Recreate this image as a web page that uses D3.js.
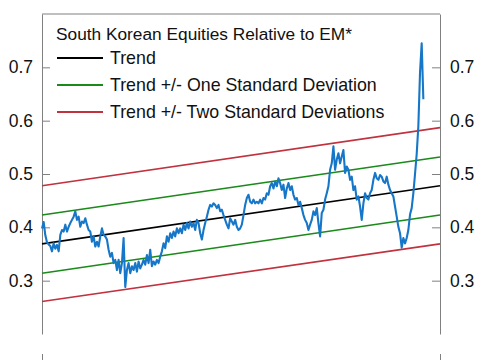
<!DOCTYPE html>
<html>
<head>
<meta charset="utf-8">
<script src="https://cdn.jsdelivr.net/npm/d3@7"></script>
<style>
   body { margin: 0; background: #fff; }
   svg { display: block; font-family: "Liberation Sans", Arial, sans-serif; }
</style>
</head>
<body>
<div id="chart"></div>
<script>
// monthly relative performance (South Korea / EM)
const relPerf = [
   .398,.410,.385,.372,.368,.365,.355,.370,.360,.367,
   .355,.386,.395,.392,.405,.392,.401,.408,.414,.420,
   .430,.414,.420,.401,.411,.408,.417,.405,.395,.392,
   .373,.383,.364,.373,.364,.383,.398,.386,.383,.377,
   .358,.345,.352,.333,.339,.320,.339,.314,.333,.380,
   .288,.320,.333,.314,.327,.320,.333,.317,.336,.323,
   .330,.339,.330,.348,.333,.358,.327,.336,.330,.339,
   .333,.345,.355,.370,.361,.383,.373,.389,.380,.392,
   .383,.398,.389,.398,.389,.405,.395,.408,.398,.411,
   .401,.408,.395,.414,.408,.389,.377,.395,.408,.420,
   .433,.442,.439,.445,.442,.436,.442,.430,.433,.423,
   .414,.405,.398,.417,.411,.405,.414,.401,.395,.398,
   .405,.423,.442,.455,.461,.448,.445,.452,.445,.448,
   .445,.452,.445,.455,.452,.464,.461,.477,.483,.473,
   .486,.477,.492,.483,.470,.480,.455,.473,.483,.470,
   .477,.461,.452,.455,.442,.448,.436,.423,.414,.408,
   .395,.405,.414,.430,.423,.436,.408,.383,.427,.433,
   .452,.464,.477,.508,.520,.552,.508,.527,.539,.520,
   .533,.545,.502,.514,.508,.489,.495,.470,.477,.452,
   .458,.439,.414,.445,.464,.455,.452,.464,.470,.489,
   .502,.492,.489,.498,.495,.486,.483,.495,.480,.470,
   .464,.458,.439,.420,.401,.389,.362,.380,.370,.380,
   .395,.424,.436,.464,.500,.537,.590,.690,.745,.640
];

const lastMonth = 239;
// start / end values of the straight lines
const trend = [0.369, 0.478];
const oneSdUp = [0.423, 0.532];
const oneSdDown = [0.314, 0.423];
const twoSdUp = [0.478, 0.587];
const twoSdDown = [0.261, 0.369];

const yTicks = [0.3, 0.4, 0.5, 0.6, 0.7];
const legendTitle = "South Korean Equities Relative to EM*";
const legendLabels = ["Trend", "Trend +/- One Standard Deviation", "Trend +/- Two Standard Deviations"];
const legendColors = ["#000000", "#1b8a1b", "#c0323e"];

const width = 485, height = 360;
const plotLeft = 42, plotRight = 440, plotTop = 14, plotBottom = 334;

const svg = d3.select("#chart").append("svg")
   .attr("width", width)
   .attr("height", height);

const x = d3.scaleLinear().domain([0, lastMonth]).range([plotLeft, plotRight]);
const y = d3.scaleLinear().domain([0.2, 0.8]).range([plotBottom, plotTop]);

// top edge of the frame
svg.append("line")
   .attr("x1", plotLeft).attr("x2", plotRight)
   .attr("y1", plotTop).attr("y2", plotTop)
   .attr("stroke", "#808080");

const leftAxis = svg.append("g")
   .attr("transform", `translate(${plotLeft},0)`)
   .call(d3.axisLeft(y).tickValues(yTicks).tickFormat(d3.format(".1f"))
      .tickSizeInner(-8).tickSizeOuter(0).tickPadding(9));

const rightAxis = svg.append("g")
   .attr("transform", `translate(${plotRight},0)`)
   .call(d3.axisRight(y).tickValues(yTicks).tickFormat(d3.format(".1f"))
      .tickSizeInner(-8).tickSizeOuter(0).tickPadding(10));

// x axis sits below the window, only its end ticks show
const bottomAxis = svg.append("g")
   .attr("transform", "translate(0,363)")
   .call(d3.axisBottom(x).tickValues([0, lastMonth]).tickFormat("")
      .tickSizeInner(-9).tickSizeOuter(0));
bottomAxis.select(".domain").remove();

[leftAxis, rightAxis, bottomAxis].forEach(function(g) {
   g.selectAll(".domain, .tick line").attr("stroke", "#808080");
   g.selectAll("text").attr("font-size", 17.5).attr("fill", "#111")
      .attr("font-family", "Liberation Sans, Arial, sans-serif");
});

const bands = [
   { ends: twoSdUp, color: legendColors[2] },
   { ends: twoSdDown, color: legendColors[2] },
   { ends: oneSdUp, color: legendColors[1] },
   { ends: oneSdDown, color: legendColors[1] },
   { ends: trend, color: legendColors[0] }
];

svg.selectAll(".band")
   .data(bands)
   .enter()
   .append("line")
   .attr("class", "band")
   .attr("x1", x(0)).attr("x2", x(lastMonth))
   .attr("y1", function(d) { return y(d.ends[0]); })
   .attr("y2", function(d) { return y(d.ends[1]); })
   .attr("stroke", function(d) { return d.color; })
   .attr("stroke-width", 1.6);

const line = d3.line()
   .x(function(d, i) { return x(i); })
   .y(function(d) { return y(d); });

svg.append("path")
   .datum(relPerf)
   .attr("fill", "none")
   .attr("stroke", "#1677c8")
   .attr("stroke-width", 2.1)
   .attr("stroke-linejoin", "round")
   .attr("d", line);

// legend
const legend = svg.append("g");
legend.append("text")
   .attr("x", 56).attr("y", 40)
   .attr("font-size", 17.3)
   .attr("fill", "#111")
   .text(legendTitle);

const rows = legend.selectAll(".row")
   .data(legendLabels)
   .enter()
   .append("g")
   .attr("class", "row")
   .attr("transform", function(d, i) { return `translate(0,${58 + i * 27})`; });

rows.append("line")
   .attr("x1", 57).attr("x2", 103)
   .attr("stroke", function(d, i) { return legendColors[i]; })
   .attr("stroke-width", 1.8);

rows.append("text")
   .attr("x", 110).attr("dy", "0.35em")
   .attr("font-size", 17.8)
   .attr("fill", "#111")
   .text(function(d) { return d; });
</script>
</body>
</html>
